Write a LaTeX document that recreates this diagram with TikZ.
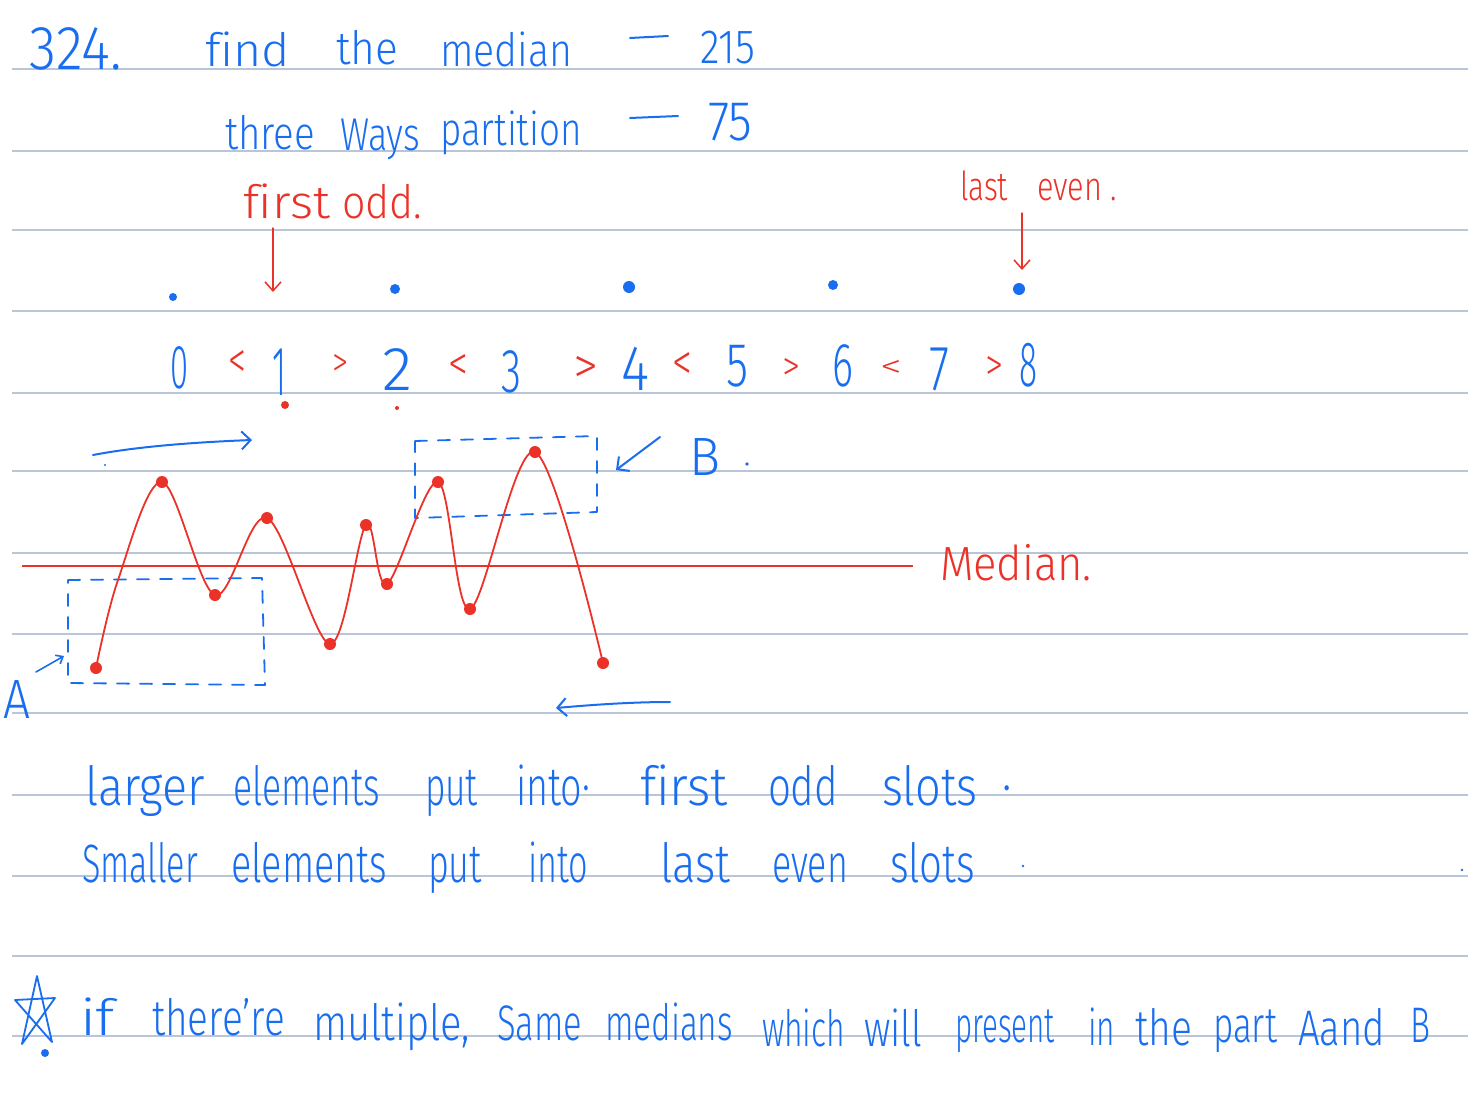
\documentclass[tikz,border=0pt]{standalone}
\usepackage{fontspec}
\setmainfont{Fira Sans}[UprightFont={* Light}, Ligatures=NoCommon]
\usetikzlibrary{arrows.meta}
\definecolor{ink}{RGB}{25,110,240}
\definecolor{redink}{RGB}{235,50,40}
\definecolor{rulecol}{RGB}{186,197,215}
\newcommand{\hw}[2]{\resizebox{#1pt}{\height}{#2}}
\newcommand{\hwh}[3]{\resizebox{#1pt}{#2pt}{#3}}
\begin{document}
\begin{tikzpicture}[x=1pt,y=-1pt,
  word/.style={anchor=base west, inner sep=0pt, outer sep=0pt},
  bigw/.style={word, font=\fontsize{46}{46}\selectfont},
  lowa/.style={word, font=\fontsize{54}{54}\selectfont},
  lowb/.style={word, font=\fontsize{50}{50}\selectfont},
  bluew/.style={text=ink},
  redw/.style={text=redink},
  ruleline/.style={draw=rulecol, line width=1.6pt},
  bluepen/.style={draw=ink, line width=2pt, line cap=round, line join=round},
  redpen/.style={draw=redink, line width=2pt, line cap=round, line join=round},
  barb/.style={-{Straight Barb[length=9pt,width=18pt,line width=2pt]}},
  boxdash/.style={bluepen, line width=1.8pt, dash pattern=on 12pt off 11pt},
  pt/.style={circle, fill=redink, inner sep=0pt, minimum size=12pt},
]
\useasboundingbox[fill=white] (0,0) rectangle (1476,1100);

% ruled lines
\foreach \yy in {69,151,230,311,393,471,553,634,713,795,876,956,1036}
  \draw[ruleline] (12,\yy) -- (1468,\yy);

% header
\node[word,bluew,font=\fontsize{62}{62}\selectfont] (n324) at (30,69) {\hw{92}{324.}};
\node[bigw,bluew] (find) at (205,66) {\hw{85}{find}};
\node[bigw,bluew] (the) at (336,64) {\hw{62}{the}};
\node[bigw,bluew] (median) at (440,66) {\hw{132}{median}};
\coordinate (d1a) at (630,38); \coordinate (d1b) at (668,36);
\draw[bluepen] (d1a) -- (d1b);
\node[word,bluew,font=\fontsize{48}{48}\selectfont] (n215) at (700,63) {\hw{55}{215}};

\node[bigw,bluew] (three) at (225,149) {\hw{90}{three}};
\node[bigw,bluew] (ways) at (340,150) {\hw{80}{Ways}};
\node[bigw,bluew] (partition) at (440,145) {\hw{142}{partition}};
\coordinate (d2a) at (630,118); \coordinate (d2b) at (678,116);
\draw[bluepen] (d2a) -- (d2b);
\node[word,bluew,font=\fontsize{56}{56}\selectfont] (n75) at (708,140) {\hw{44}{75}};

% red labels
\node[bigw,redw] (first) at (243,218) {\hw{87}{first}};
\node[bigw,redw] (odd) at (342,218) {\hw{80}{odd.}};
\node[word,redw,font=\fontsize{40}{40}\selectfont] (last) at (960,200) {\hw{48}{last}};
\node[word,redw,font=\fontsize{40}{40}\selectfont] (even) at (1037,200) {\hw{80}{even .}};

\coordinate (fa) at (273,228); \coordinate (fb) at (273,292);
\draw[redpen, line width=1.5pt, -{Straight Barb[length=9pt,width=16pt,line width=1.5pt]}] (fa) -- (fb);
\coordinate (la) at (1022,213); \coordinate (lb) at (1022,270);
\draw[redpen, line width=1.5pt, -{Straight Barb[length=9pt,width=16pt,line width=1.5pt]}] (la) -- (lb);

% blue dots
\fill[ink] (173,297) circle (4);
\fill[ink] (395,289) circle (5);
\fill[ink] (629,287) circle (6);
\fill[ink] (833,285) circle (5);
\fill[ink] (1019,289) circle (6);

% digits row
\node[word,bluew,font=\fontsize{62}{62}\selectfont] (z0) at (170,388) {\hw{18}{0}};
\node[word,bluew,font=\fontsize{70}{70}\selectfont] (z1) at (272,395) {\hw{14}{1}};
\node[word,bluew,font=\fontsize{62}{62}\selectfont] (z2) at (382,390) {\hw{30}{2}};
\node[word,bluew,font=\fontsize{62}{62}\selectfont] (z3) at (501,392) {\hw{20}{3}};
\node[word,bluew,font=\fontsize{64}{64}\selectfont] (z4) at (621,390) {\hw{28}{4}};
\node[word,bluew,font=\fontsize{62}{62}\selectfont] (z5) at (726,386) {\hw{22}{5}};
\node[word,bluew,font=\fontsize{62}{62}\selectfont] (z6) at (832,386) {\hw{21}{6}};
\node[word,bluew,font=\fontsize{64}{64}\selectfont] (z7) at (929,390) {\hw{20}{7}};
\node[word,bluew,font=\fontsize{64}{64}\selectfont] (z8) at (1019,386) {\hw{18}{8}};
\node[word,redw] (s1) at (228,378) {\hwh{18}{28}{<}};
\node[word,redw] (s2) at (332,376) {\hwh{16}{22}{>}};
\node[word,redw] (s3) at (448,380) {\hwh{20}{26}{<}};
\node[word,redw] (s4) at (573,383) {\hwh{25}{27}{>}};
\node[word,redw] (s5) at (672,380) {\hwh{20}{28}{<}};
\node[word,redw] (s6) at (782,380) {\hwh{18}{22}{>}};
\node[word,redw] (s7) at (880,377) {\hwh{22}{17}{<}};
\node[word,redw] (s8) at (985,380) {\hwh{18}{24}{>}};
\fill[redink] (285,405) circle (4);
\fill[redink] (397,408) circle (2);

% top blue arrow
\coordinate (ta) at (93,455); \coordinate (tb) at (252,440);
\draw[bluepen, barb] (ta) .. controls (140,446) and (200,442) .. (tb);
\fill[ink] (105,465) circle (1.2);

% box B
\draw[boxdash] (415,441) -- (597,436) -- (597,512) -- (415,518) -- cycle;
\coordinate (ba) at (660,437); \coordinate (bb) at (616,470);
\draw[bluepen, barb] (ba) -- (bb);
\node[word,bluew,font=\fontsize{52}{52}\selectfont] (labB) at (689,475) {\hwh{31}{37}{B}};
\fill[ink] (747,464) circle (1.8);

% median line
\coordinate (ma) at (22,566); \coordinate (mb) at (913,566);
\draw[redink, line width=2pt] (ma) -- (mb);
\node[word,redw,font=\fontsize{48}{48}\selectfont] (medlab) at (940,580) {\hw{152}{Median.}};

% box A
\draw[boxdash] (68,580) -- (262,578) -- (265,685) -- (68,683) -- cycle;
\node[word,bluew,font=\fontsize{52}{52}\selectfont] (labA) at (4,718) {\hwh{27}{38}{A}};
\coordinate (aa) at (36,672); \coordinate (ab) at (64,656);
\draw[bluepen, line width=1.6pt, -{Straight Barb[length=6pt,width=10pt,line width=1.6pt]}] (aa) -- (ab);

% bottom arrow
\coordinate (ca) at (670,702); \coordinate (cb) at (556,708);
\draw[bluepen, barb] (ca) .. controls (630,702) and (590,705) .. (cb);

% red curve
\draw[redink, line width=1.8pt] plot[smooth, tension=0.55] coordinates {
 (96,668) (118,580) (162,482) (215,595) (267,518) (330,644) (366,525) (387,584) (438,482) (470,609) (535,452) (603,663)};
\foreach \p/\q in {96/668,162/482,215/595,267/518,330/644,366/525,387/584,438/482,470/609,535/452,603/663}
  \node[pt] at (\p,\q) {};

% bottom text
\node[lowa,bluew] (w1) at (85,805) {\hw{120}{larger}};
\node[lowa,bluew] (w2) at (233,805) {\hw{147}{elements}};
\node[lowa,bluew] (w3) at (425,805) {\hw{53}{put}};
\node[lowa,bluew] (w4) at (516,805) {\hw{74}{into·}};
\node[lowa,bluew] (w5) at (640,805) {\hw{88}{first}};
\node[lowa,bluew] (w6) at (768,805) {\hw{70}{odd}};
\node[lowa,bluew] (w7) at (882,805) {\hw{130}{slots \ ·}};

\node[lowa,bluew] (v1) at (82,882) {\hw{116}{Smaller}};
\node[lowa,bluew] (v2) at (231,882) {\hw{156}{elements}};
\node[lowa,bluew] (v3) at (428,882) {\hw{54}{put}};
\node[lowa,bluew] (v4) at (528,882) {\hw{60}{into}};
\node[lowa,bluew] (v5) at (660,882) {\hw{70}{last}};
\node[lowa,bluew] (v6) at (772,882) {\hw{76}{even}};
\node[lowa,bluew] (v7) at (890,882) {\hw{85}{slots}};
\fill[ink] (1023,866) circle (1.3);
\fill[ink] (1462,870) circle (1.3);

% star note
\draw[bluepen, line width=1.8pt] (37,976) -- (22,1044) -- (55,998) -- (15,1000) -- (52,1042) -- cycle;
\fill[ink] (45,1053) circle (4);
\node[lowb,bluew] (u1) at (80,1035) {\hw{35}{if}};
\node[lowb,bluew] (u2) at (152,1035) {\hw{133}{there're}};
\node[lowb,bluew] (u3) at (313,1040) {\hw{157}{multiple,}};
\node[lowb,bluew] (u4) at (497,1040) {\hw{85}{Same}};
\node[lowb,bluew] (u5) at (605,1040) {\hw{128}{medians}};
\node[lowb,bluew] (u6) at (762,1046) {\hw{83}{which}};
\node[lowb,bluew] (u7) at (864,1046) {\hw{58}{will}};
\node[lowb,bluew] (u8) at (955,1042) {\hw{100}{present}};
\node[lowb,bluew] (u9) at (1088,1045) {\hw{27}{in}};
\node[lowb,bluew] (u10) at (1135,1045) {\hw{57}{the}};
\node[lowb,bluew] (u11) at (1213,1042) {\hw{64}{part}};
\node[lowb,bluew] (u12) at (1298,1045) {\hw{87}{Aand}};
\node[lowb,bluew] (u13) at (1410,1042) {\hw{20}{B}};
\end{tikzpicture}
\end{document}
